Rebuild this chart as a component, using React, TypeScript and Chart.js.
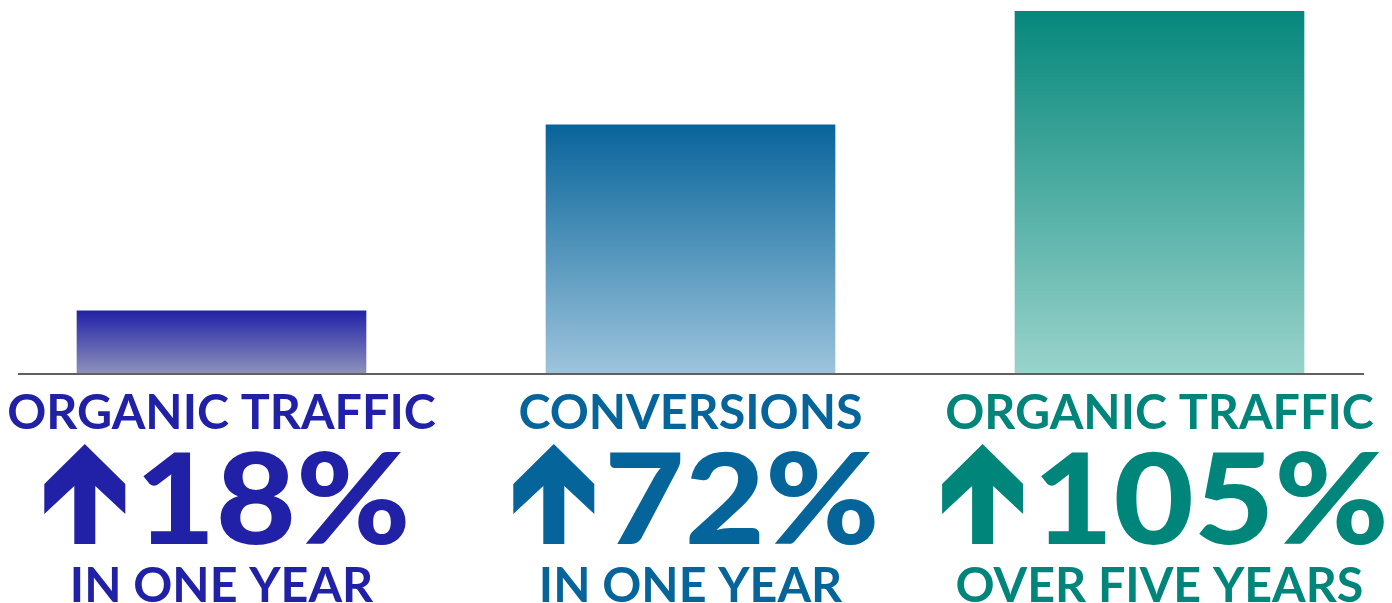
import React, { useEffect, useRef } from "react";
import { Chart, registerables } from "chart.js";

Chart.register(...registerables);

const categories = ["Organic traffic 1y", "Conversions", "Organic traffic 5y"];
const values = [18, 72, 105];
const titleLines = ["ORGANIC TRAFFIC", "CONVERSIONS", "ORGANIC TRAFFIC"];
const numberLabels = ["18%", "72%", "105%"];
const subLines = ["IN ONE YEAR", "IN ONE YEAR", "OVER FIVE YEARS"];
const topColors = ["#2222a8", "#08649a", "#06877b"];
const bottomColors = ["#8c91b9", "#9dc4dc", "#99d3cb"];
const textColors = ["#2121a7", "#05649a", "#00857a"];
const axisMax = 105;

const FONT = "Lato, 'Open Sans', sans-serif";

function stretchedText(ctx: any, text: string, x: number, y: number, sx: number, align: "center" | "left") {
  ctx.save();
  ctx.translate(x, y);
  ctx.scale(sx, 1);
  ctx.textAlign = align;
  ctx.fillText(text, 0, 0);
  ctx.restore();
}

const labelPlugin = {
  id: "bigLabels",
  afterDraw(chart: any) {
    const { ctx } = chart;
    const xs = chart.scales.x;
    const ys = chart.scales.y;
    const base = ys.getPixelForValue(0);
    const first = chart.getDatasetMeta(0).data[0];
    const last = chart.getDatasetMeta(0).data[values.length - 1];
    ctx.save();
    ctx.strokeStyle = "#606060";
    ctx.lineWidth = 2;
    ctx.beginPath();
    ctx.moveTo(first.x - first.width / 2 - 59, base + 1);
    ctx.lineTo(last.x + last.width / 2 + 60, base + 1);
    ctx.stroke();

    ctx.textBaseline = "alphabetic";
    values.forEach((_, i) => {
      const cx = xs.getPixelForValue(i);
      ctx.fillStyle = textColors[i];
      ctx.font = `700 47px ${FONT}`;
      stretchedText(ctx, titleLines[i], cx, base + 56, 1.03, "center");
      stretchedText(ctx, subLines[i], cx, base + 229, 1.03, "center");

      const sx = 1.1;
      ctx.font = `900 126px ${FONT}`;
      const nw = ctx.measureText(numberLabels[i]).width * sx;
      const aw = 81;
      const gap = 10;
      const total = aw + gap + nw;
      const left = cx - total / 2 + 6;
      const ab = base + 171;
      const at = ab - 100;
      const mid = left + aw / 2;
      ctx.beginPath();
      ctx.moveTo(mid, at);
      ctx.lineTo(left + aw, at + 40);
      ctx.lineTo(left + aw, at + 70);
      ctx.lineTo(mid + 10.5, at + 42);
      ctx.lineTo(mid + 10.5, ab);
      ctx.lineTo(mid - 10.5, ab);
      ctx.lineTo(mid - 10.5, at + 42);
      ctx.lineTo(left, at + 70);
      ctx.lineTo(left, at + 40);
      ctx.closePath();
      ctx.fill();
      stretchedText(ctx, numberLabels[i], left + aw + gap, base + 171, sx, "left");
    });
    ctx.restore();
  },
};

export default function App() {
  const ref = useRef<HTMLCanvasElement | null>(null);
  useEffect(() => {
    document.body.style.margin = "0";
    const canvas = ref.current!;
    const chart = new Chart(canvas, {
      type: "bar",
      data: {
        labels: categories,
        datasets: [
          {
            data: values,
            barThickness: 289,
            borderWidth: 0,
            backgroundColor: (c: any) => {
              const ch = c.chart;
              const i = c.dataIndex;
              if (!ch.chartArea || i === undefined) return topColors[i ?? 0];
              const ys = ch.scales.y;
              const top = ys.getPixelForValue(values[i]);
              const bot = ys.getPixelForValue(0);
              const g = ch.ctx.createLinearGradient(0, top, 0, bot);
              g.addColorStop(0, topColors[i]);
              g.addColorStop(1, bottomColors[i]);
              return g;
            },
          },
        ],
      },
      options: {
        animation: false,
        responsive: false,
        maintainAspectRatio: false,
        layout: { padding: { top: 11, bottom: 230, left: 0, right: 0 } },
        plugins: { legend: { display: false }, tooltip: { enabled: false } },
        scales: {
          x: { display: false, offset: true },
          y: { display: false, min: 0, max: axisMax },
        },
      },
      plugins: [labelPlugin],
    });
    return () => chart.destroy();
  }, []);
  return (
    <div style={{ position: "relative", width: 1392, height: 603, overflow: "hidden", background: "#fff" }}>
      <canvas
        ref={ref}
        width={1407}
        height={603}
        style={{ position: "absolute", left: -13, top: 0, width: 1407, height: 603 }}
      />
    </div>
  );
}
